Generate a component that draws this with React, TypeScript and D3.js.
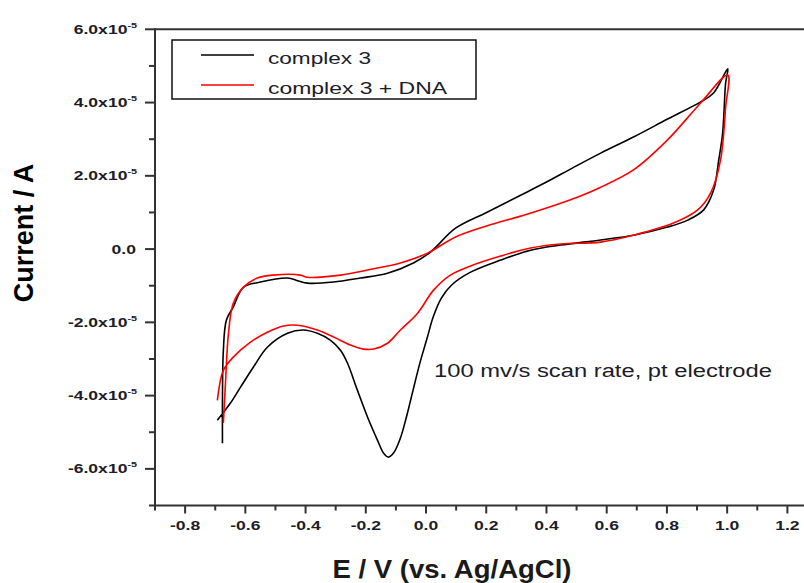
import React from "react";
import * as d3 from "d3";

// ---- data (E in V vs Ag/AgCl, current in A) ----
const complex3Forward: [number, number][] = [
  [-0.676, -5.30e-5], [-0.676, -4.13e-5], [-0.673, -2.77e-5], [-0.663, -1.94e-5],
  [-0.640, -1.58e-5], [-0.606, -1.04e-5], [-0.550, -0.90e-5], [-0.460, -0.79e-5],
  [-0.424, -0.87e-5], [-0.394, -0.93e-5], [-0.307, -0.90e-5], [-0.218, -0.79e-5],
  [-0.128, -0.66e-5], [-0.042, -0.38e-5], [0.015, -0.08e-5], [0.098, 0.57e-5],
  [0.201, 1.00e-5], [0.314, 1.47e-5], [0.400, 1.83e-5], [0.490, 2.23e-5],
  [0.580, 2.62e-5], [0.689, 3.06e-5], [0.802, 3.55e-5], [0.912, 4.02e-5],
  [0.955, 4.26e-5], [1.002, 4.92e-5],
];
const complex3Reverse: [number, number][] = [
  [0.995, 4.54e-5], [0.985, 3.17e-5], [0.972, 2.43e-5], [0.955, 1.61e-5],
  [0.922, 1.07e-5], [0.869, 0.79e-5], [0.802, 0.60e-5], [0.689, 0.38e-5],
  [0.580, 0.25e-5], [0.447, 0.11e-5], [0.347, -0.03e-5], [0.248, -0.30e-5],
  [0.148, -0.63e-5], [0.085, -0.98e-5], [0.050, -1.35e-5], [0.024, -1.85e-5],
  [0.003, -2.45e-5], [-0.020, -3.10e-5], [-0.043, -3.85e-5], [-0.064, -4.55e-5],
  [-0.086, -5.18e-5], [-0.108, -5.57e-5], [-0.125, -5.68e-5], [-0.141, -5.57e-5],
  [-0.161, -5.22e-5], [-0.194, -4.59e-5], [-0.228, -3.85e-5], [-0.261, -3.11e-5],
  [-0.284, -2.76e-5], [-0.317, -2.49e-5], [-0.361, -2.30e-5], [-0.407, -2.21e-5],
  [-0.460, -2.30e-5], [-0.527, -2.68e-5], [-0.573, -3.22e-5], [-0.616, -3.77e-5],
  [-0.650, -4.21e-5], [-0.693, -4.67e-5],
];
const complex3DnaForward: [number, number][] = [
  [-0.673, -4.75e-5], [-0.666, -3.66e-5], [-0.656, -2.30e-5], [-0.640, -1.48e-5],
  [-0.606, -1.04e-5], [-0.560, -0.79e-5], [-0.507, -0.71e-5], [-0.417, -0.71e-5],
  [-0.394, -0.77e-5], [-0.284, -0.71e-5], [-0.194, -0.57e-5], [-0.085, -0.38e-5],
  [0.005, -0.11e-5], [0.098, 0.33e-5], [0.201, 0.63e-5], [0.314, 0.90e-5],
  [0.400, 1.12e-5], [0.513, 1.45e-5], [0.580, 1.69e-5], [0.689, 2.16e-5],
  [0.802, 2.98e-5], [0.912, 3.99e-5], [1.002, 4.75e-5],
];
const complex3DnaReverse: [number, number][] = [
  [0.995, 3.88e-5], [0.978, 2.43e-5], [0.945, 1.53e-5], [0.902, 1.07e-5],
  [0.822, 0.71e-5], [0.689, 0.38e-5], [0.580, 0.19e-5], [0.447, 0.14e-5],
  [0.347, 0.03e-5], [0.248, -0.19e-5], [0.148, -0.46e-5], [0.081, -0.71e-5],
  [0.025, -1.12e-5], [-0.028, -1.75e-5], [-0.085, -2.21e-5], [-0.128, -2.57e-5],
  [-0.174, -2.73e-5], [-0.208, -2.73e-5], [-0.251, -2.62e-5], [-0.307, -2.40e-5],
  [-0.361, -2.21e-5], [-0.427, -2.08e-5], [-0.473, -2.10e-5], [-0.527, -2.27e-5],
  [-0.583, -2.54e-5], [-0.640, -2.95e-5], [-0.673, -3.31e-5], [-0.693, -4.13e-5],
];

const seriesNames = ["complex 3", "complex 3 + DNA"];
const seriesColors = ["#000000", "#ff0000"];
const xTickValues = [-0.8, -0.6, -0.4, -0.2, 0.0, 0.2, 0.4, 0.6, 0.8, 1.0, 1.2];
const xMinorTicks = [-0.9, -0.7, -0.5, -0.3, -0.1, 0.1, 0.3, 0.5, 0.7, 0.9, 1.1];
const yTickValues = [-6e-5, -4e-5, -2e-5, 0, 2e-5, 4e-5, 6e-5];
const yMinorTicks = [-7e-5, -5e-5, -3e-5, -1e-5, 1e-5, 3e-5, 5e-5];
const xTitle = "E / V (vs. Ag/AgCl)";
const yTitle = "Current / A";
const annotation = "100 mv/s scan rate, pt electrode";

const FONT = "'Liberation Sans', Arial, sans-serif";

export default function App() {
  const W = 804, H = 583;
  const left = 155, right = 817.5, top = 29.3, bottom = 505.5;
  const x = d3.scaleLinear().domain([-0.9, 1.3]).range([left, right]);
  const y = d3.scaleLinear().domain([-7e-5, 6e-5]).range([bottom, top]);
  const line = d3
    .line<[number, number]>()
    .x((d) => x(d[0]))
    .y((d) => y(d[1]))
    .curve(d3.curveCatmullRom.alpha(0.5));

  const loops = [
    complex3Forward.concat(complex3Reverse),
    complex3DnaForward.concat(complex3DnaReverse),
  ];
  const axisColor = "#333";
  const labelColor = "#1c1c2a";

  return (
    <svg
      width={W}
      height={H}
      style={{ position: "absolute", left: 0, top: 0, display: "block", background: "#fff" }}
      fontFamily={FONT}
    >
      <rect x={0} y={0} width={W} height={H} fill="#fff" />
      {/* frame */}
      <line x1={left} x2={right} y1={top} y2={top} stroke={axisColor} strokeWidth={2} />
      <line x1={right} x2={right} y1={top} y2={bottom} stroke={axisColor} strokeWidth={2} />
      <line x1={left} x2={left} y1={top - 1} y2={bottom + 1} stroke={axisColor} strokeWidth={2} />
      <line x1={left - 1} x2={right} y1={bottom} y2={bottom} stroke={axisColor} strokeWidth={2} />

      {/* y ticks */}
      {yTickValues.map((v) => (
        <line key={"ym" + v} x1={left - 10} x2={left} y1={y(v)} y2={y(v)} stroke={axisColor} strokeWidth={2} />
      ))}
      {yMinorTicks.map((v) => (
        <line key={"yn" + v} x1={left - 6} x2={left} y1={y(v)} y2={y(v)} stroke={axisColor} strokeWidth={2} />
      ))}
      {yTickValues.map((v) => {
        const isZero = Math.abs(v) < 1e-12;
        const main = isZero ? "0.0" : (v / 1e-5).toFixed(1) + "x10";
        return (
          <text
            key={"yl" + v}
            transform={`translate(${isZero ? 136 : 137},${y(v) + 4.5}) scale(1.35,1)`}
            textAnchor="end"
            fontSize={13}
            fontWeight="bold"
            fill={labelColor}
          >
            {main}
            {!isZero && (
              <tspan dy={-6} fontSize={8}>
                -5
              </tspan>
            )}
          </text>
        );
      })}

      {/* x ticks */}
      {xTickValues.map((v) => (
        <line key={"xm" + v} x1={x(v)} x2={x(v)} y1={bottom} y2={bottom + 8} stroke={axisColor} strokeWidth={2} />
      ))}
      {xMinorTicks.map((v) => (
        <line key={"xn" + v} x1={x(v)} x2={x(v)} y1={bottom} y2={bottom + 5} stroke={axisColor} strokeWidth={2} />
      ))}
      {xTickValues.map((v) => (
        <text
          key={"xl" + v}
          transform={`translate(${x(v)},${530}) scale(1.35,1)`}
          textAnchor="middle"
          fontSize={13}
          fontWeight="bold"
          fill={labelColor}
        >
          {v.toFixed(1)}
        </text>
      ))}

      {/* curves */}
      {loops.map((pts, i) => (
        <path key={"c" + i} d={line(pts) || ""} fill="none" stroke={seriesColors[i]} strokeWidth={1.6} strokeLinejoin="round" />
      ))}

      {/* legend */}
      <rect x={172} y={40} width={304} height={59} fill="#fff" stroke="#111" strokeWidth={1.5} />
      {seriesNames.map((name, i) => (
        <g key={"lg" + i}>
          <line x1={201} x2={254} y1={55 + i * 30} y2={55 + i * 30} stroke={seriesColors[i]} strokeWidth={1.6} />
          <text
            x={268}
            y={64 + i * 30}
            fontSize={16}
            fill={labelColor}
            textLength={i === 0 ? 103 : 179}
            lengthAdjust="spacingAndGlyphs"
          >
            {name}
          </text>
        </g>
      ))}

      {/* annotation */}
      <text x={434} y={377} fontSize={18} fill={labelColor} textLength={338} lengthAdjust="spacingAndGlyphs">
        {annotation}
      </text>

      {/* axis titles */}
      <text
        x={452}
        y={578}
        textAnchor="middle"
        fontSize={26}
        fontWeight="bold"
        fill="#1a1a1a"
        textLength={239}
        lengthAdjust="spacingAndGlyphs"
      >
        {xTitle}
      </text>
      <text
        transform={`translate(33,233) rotate(-90)`}
        textAnchor="middle"
        fontSize={27}
        fontWeight="bold"
        fill="#000"
      >
        {yTitle}
      </text>
    </svg>
  );
}
